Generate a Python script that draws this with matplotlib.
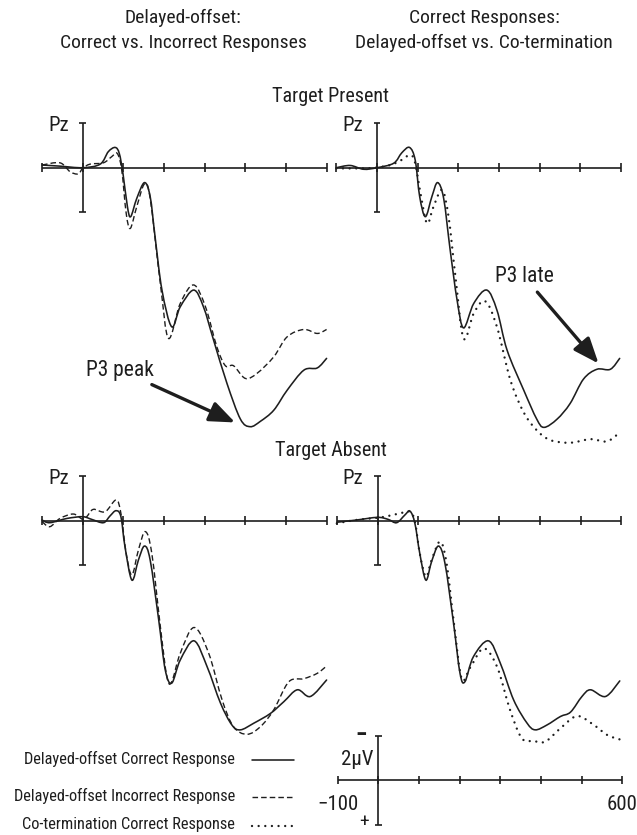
import matplotlib as mpl
mpl.use('Agg')

import numpy as np
import matplotlib.pyplot as plt
from matplotlib import font_manager as fm
from matplotlib.path import Path
from matplotlib.patches import PathPatch

# The original uses an Arial Narrow-like face; pick a narrow font if one is installed.
names = {f.name for f in fm.fontManager.ttflist}
FONT, FS = 'Liberation Sans', 0.84
for cand in ['Liberation Sans Narrow', 'Arial Narrow', 'Roboto Condensed', 'DejaVu Sans Condensed']:
    if cand in names:
        FONT, FS = cand, 1.0
        break
else:
    cond = sorted({f.name for f in fm.fontManager.ttflist
                   if f.stretch in ('condensed', 'semi-condensed') and f.style == 'normal'})
    if cond:
        FONT, FS = cond[0], 1.0
        plt.rcParams['font.stretch'] = 'condensed'
plt.rcParams['font.family'] = [FONT, 'DejaVu Sans']

# Waveforms: time (ms), amplitude (uV, positive plotted downward)
# Target present, delayed-offset correct (solid) vs incorrect (dashed)
tp_cor_t = [-100, -56, 0, 43, 63, 80, 90, 99, 110, 118, 133, 152, 166, 178, 195, 219, 240, 273, 297,
            322, 355, 388, 412, 437, 470, 503, 544, 577, 600]
tp_cor_v = [-0.12, -0.07, 0.0, -0.16, -0.72, -0.91, -0.64, 0.25, 1.75, 2.2, 1.38, 0.67, 1.3, 3.1, 5.5,
            7.15, 6.25, 5.5, 6.25, 7.75, 9.7, 11.3, 11.64, 11.4, 10.9, 10.0, 9.1, 9.0, 8.57]
tp_inc_t = [-100, -56, -31, -11, 0, 18, 51, 71, 85, 96, 107, 117, 133, 152, 166, 191, 211, 240, 273,
            302, 330, 351, 371, 400, 429, 470, 503, 544, 577, 600]
tp_inc_v = [-0.12, -0.22, 0.18, 0.28, 0.03, -0.16, -0.22, -0.49, -0.64, 0.1, 2.05, 2.73, 1.75, 0.73,
            1.38, 5.2, 7.67, 6.1, 5.27, 6.25, 8.05, 8.9, 8.9, 9.47, 9.24, 8.5, 7.6, 7.27, 7.45, 7.27]

# Target present, correct responses: delayed-offset (solid) vs co-termination (dotted)
tp_do_t = [-100, -66, -33, 0, 41, 61, 80, 94, 105, 119, 135, 149, 164, 180, 197, 213, 238, 270, 295,
           320, 361, 393, 411, 443, 475, 508, 541, 574, 597]
tp_do_v = [0.0, -0.1, 0.07, 0.0, -0.2, -0.67, -0.91, -0.34, 1.3, 2.2, 1.3, 0.67, 1.38, 3.7, 5.95, 7.2,
           6.1, 5.5, 6.4, 8.2, 10.0, 11.3, 11.67, 11.3, 10.6, 9.5, 9.06, 9.06, 8.57]
tp_ct_t = [-100, -33, 0, 33, 57, 82, 94, 107, 123, 139, 160, 176, 193, 213, 238, 266, 295, 328, 361,
           393, 426, 475, 525, 566, 597]
tp_ct_v = [0.03, 0.03, -0.01, -0.12, -0.31, -0.57, -0.2, 1.15, 2.5, 1.75, 1.0, 2.2, 4.9, 7.67, 6.55,
           6.0, 7.15, 9.54, 11.0, 11.8, 12.24, 12.36, 12.2, 12.3, 11.9]

# Target absent, delayed-offset correct (solid) vs incorrect (dashed)
ta_cor_t = [-100, -81, -39, 0, 22, 51, 67, 82, 94, 104, 121, 137, 152, 166, 187, 203, 219, 240, 274,
            306, 339, 367, 388, 421, 462, 495, 528, 560, 600]
ta_cor_v = [-0.03, 0.09, -0.1, -0.18, -0.06, 0.09, -0.21, -0.45, -0.18, 1.17, 2.67, 1.77, 1.14, 1.77,
            4.46, 6.7, 7.3, 6.26, 5.4, 6.56, 8.2, 9.18, 9.4, 9.1, 8.66, 8.13, 7.6, 7.9, 7.16]
ta_inc_t = [-100, -81, -56, -23, 0, 10, 26, 55, 82, 94, 107, 121, 137, 154, 170, 191, 207, 219, 240,
            274, 310, 343, 371, 404, 437, 470, 507, 544, 577, 600]
ta_inc_v = [0.04, 0.27, -0.1, -0.3, -0.06, -0.18, -0.51, -0.4, -0.93, -0.33, 1.47, 2.44, 1.32, 0.49,
            1.47, 4.76, 7.0, 7.24, 5.96, 4.8, 5.96, 8.06, 9.26, 9.6, 9.26, 8.5, 7.24, 7.1, 6.86, 6.53]

# Target absent, correct responses: delayed-offset (solid) vs co-termination (dotted)
ta_do_t = [-100, -52, 0, 26, 47, 67, 80, 92, 104, 119, 133, 150, 166, 187, 203, 215, 236, 273, 302,
           335, 368, 388, 417, 450, 475, 503, 524, 561, 596]
ta_do_v = [0.07, -0.03, -0.15, -0.06, 0.09, -0.25, -0.43, 0.12, 1.47, 2.67, 1.84, 1.14, 1.92, 4.6,
           6.86, 7.24, 6.11, 5.4, 6.4, 8.06, 9.1, 9.4, 9.18, 8.8, 8.6, 7.9, 7.6, 7.9, 7.2]
ta_ct_t = [-100, -68, -35, 0, 26, 55, 80, 92, 104, 119, 133, 154, 170, 188, 207, 228, 261, 294, 326,
           355, 384, 413, 450, 491, 532, 565, 596]
ta_ct_v = [0.12, 0.01, -0.07, -0.13, -0.21, -0.33, -0.4, 0.04, 1.47, 2.52, 1.77, 0.94, 1.92, 4.6,
           7.1, 6.6, 5.74, 6.56, 8.5, 9.78, 9.9, 9.93, 9.33, 8.78, 9.18, 9.63, 9.83]

ticks = [-100, 0, 100, 200, 300, 400, 500, 600]
bar_uv = 2

W, H = 637, 835
PXMS = 0.4065   # pixels per ms
PXUV = 22.25    # pixels per uV

fig = plt.figure(figsize=(W / 100, H / 100), dpi=100)

INK = '#1e1e1e'
solid = dict(color=INK, lw=1.15, ls='-', capstyle='round')
dashed = dict(color=INK, lw=1.0, ls=(0, (4.0, 2.2)), capstyle='butt')
dotted = dict(color=INK, lw=1.7, ls=(0, (0.01, 2.8)), capstyle='round')


def panel(left, top, right, bottom, t0, zero):
    """Axes placed in pixel coordinates, with data in ms / uV (positive down)."""
    ax = fig.add_axes([left / W, 1 - bottom / H, (right - left) / W, (bottom - top) / H])
    ax.set_xlim((left - t0) / PXMS, (right - t0) / PXMS)
    ax.set_ylim((bottom - zero) / PXUV, (top - zero) / PXUV)
    ax.axis('off')
    return ax


def erp_axes(ax):
    kw = dict(color=INK, lw=1.2, solid_capstyle='butt')
    ax.plot([ticks[0], ticks[-1]], [0, 0], **kw)
    for t in ticks:
        ax.plot([t, t], [-0.2, 0.2], **kw)
    ax.plot([0, 0], [-bar_uv, bar_uv], **kw)
    for v in (-bar_uv, bar_uv):
        ax.plot([-8, 8], [v, v], **kw)


def wave(ax, t, v, style):
    """Draw the read-off samples as a smooth (Catmull-Rom) curve through every point."""
    p = np.column_stack([t, v]).astype(float)
    verts = [p[0]]
    codes = [Path.MOVETO]
    for i in range(len(p) - 1):
        a = p[max(i - 1, 0)]
        b = p[i]
        c = p[i + 1]
        d = p[min(i + 2, len(p) - 1)]
        verts += [b + (c - a) / 6.0, c - (d - b) / 6.0, c]
        codes += [Path.CURVE4] * 3
    patch = PathPatch(Path(verts, codes), fill=False, edgecolor=style['color'], lw=style['lw'],
                      linestyle=style['ls'], capstyle=style['capstyle'])
    ax.add_patch(patch)


ax1 = panel(30, 110, 335, 450, 82.7, 167.7)
ax2 = panel(325, 110, 635, 450, 377.0, 167.7)
ax3 = panel(30, 460, 335, 790, 82.7, 520.7)
ax4 = panel(325, 460, 635, 790, 377.5, 520.7)

for ax in (ax1, ax2, ax3, ax4):
    erp_axes(ax)

wave(ax1, tp_inc_t, tp_inc_v, dashed)
wave(ax1, tp_cor_t, tp_cor_v, solid)
wave(ax2, tp_ct_t, tp_ct_v, dotted)
wave(ax2, tp_do_t, tp_do_v, solid)
wave(ax3, ta_inc_t, ta_inc_v, dashed)
wave(ax3, ta_cor_t, ta_cor_v, solid)
wave(ax4, ta_ct_t, ta_ct_v, dotted)
wave(ax4, ta_do_t, ta_do_v, solid)

for ax in (ax1, ax2, ax3, ax4):
    ax.text(-60, -1.9, 'Pz', fontsize=15 * FS, ha='center', va='center', color=INK)

arrow = dict(arrowstyle='-|>,head_length=1.0,head_width=0.4', lw=2.4, color=INK, shrinkA=2, shrinkB=0)
ax1.annotate('P3 peak', xy=(375, 11.45), xytext=(92, 9.1), fontsize=15.5 * FS, ha='center',
             va='center', color=INK, arrowprops=arrow)
ax2.annotate('P3 late', xy=(545, 8.8), xytext=(362, 4.9), fontsize=15.5 * FS, ha='center',
             va='center', color=INK, arrowprops=arrow)

# calibration key
cal = panel(325, 725, 635, 835, 378.3, 780.0)
erp_axes(cal)
cal.text(-42, -bar_uv, '\u2212', fontsize=17 * FS, fontweight='bold', ha='center', va='center',
         color=INK)
cal.text(-34, bar_uv - 0.1, '+', fontsize=14 * FS, ha='center', va='center', color=INK)
cal.text(-12, -0.9, '2\u03bcV', fontsize=15 * FS, ha='right', va='center', color=INK)
cal.text(-100, 1.1, '\u2212100', fontsize=15 * FS, ha='center', va='center', color=INK)
cal.text(600, 1.1, '600', fontsize=15 * FS, ha='center', va='center', color=INK)

# legend
leg = fig.add_axes([0, 0, 1, 1])
leg.set_xlim(0, W)
leg.set_ylim(H, 0)
leg.axis('off')
labels = ['Delayed-offset Correct Response', 'Delayed-offset Incorrect Response',
          'Co-termination Correct Response']
for lab, y, st in zip(labels, [759, 796, 825], [solid, dashed, dotted]):
    leg.text(235, y, lab, fontsize=11.8 * FS, ha='right', va='center', color=INK)
    leg.plot([252, 294], [y + 1, y + 1], color=INK, lw=st['lw'], ls=st['ls'],
             solid_capstyle=st['capstyle'], dash_capstyle=st['capstyle'])

# titles
fig.text(183 / W, 1 - 18 / H, 'Delayed-offset:', fontsize=14 * FS, ha='center', va='center', color=INK)
fig.text(183 / W, 1 - 43 / H, 'Correct vs. Incorrect Responses', fontsize=14 * FS, ha='center',
         va='center', color=INK)
fig.text(484 / W, 1 - 18 / H, 'Correct Responses:', fontsize=14 * FS, ha='center', va='center',
         color=INK)
fig.text(484 / W, 1 - 43 / H, 'Delayed-offset vs. Co-termination', fontsize=14 * FS, ha='center',
         va='center', color=INK)
fig.text(331 / W, 1 - 97 / H, 'Target Present', fontsize=14.5 * FS, ha='center', va='center', color=INK)
fig.text(331 / W, 1 - 451 / H, 'Target Absent', fontsize=14.5 * FS, ha='center', va='center', color=INK)

fig.savefig('out.png', dpi=100)
